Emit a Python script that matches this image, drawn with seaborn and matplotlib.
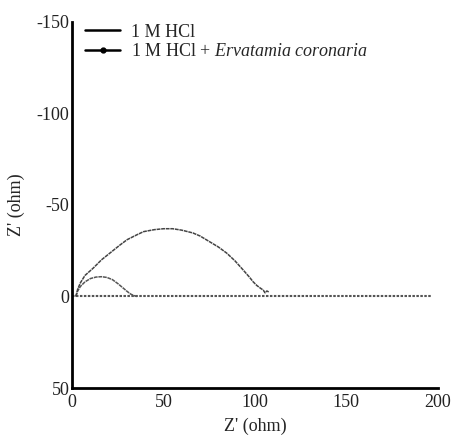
import matplotlib
matplotlib.use("Agg")
import matplotlib.pyplot as plt
from matplotlib.lines import Line2D
import seaborn as sns
import pandas as pd

# Data
x_hcl = [2, 3, 4.5, 7, 10, 13, 16, 19, 22, 25, 28, 30, 32, 34, 35.5]
y_hcl = [0, -3, -5.5, -8, -9.8, -10.6, -10.8, -10.4, -9.2, -7, -4.5, -2.8, -1.3, -0.4, 0]

x_inh = [2, 3, 4.5, 7, 11.5, 16, 21, 26, 30, 35, 39, 45, 50, 55, 60, 66, 70, 75,
         80, 84.5, 89, 93.5, 97, 99, 101, 103, 104.5, 105.5, 106.5, 107.5]
y_inh = [0, -4, -7.5, -11.5, -15.5, -20, -24, -28, -31, -33.5, -35.4, -36.5, -37, -37,
         -36.2, -34.7, -33, -30, -27, -23.7, -19.5, -14.5, -10.5, -8, -6, -4.5, -3.5,
         -2, -3, -2.5]

x_base = [0, 197]
y_base = [0, 0]

labels = ["1 M HCl", "1 M HCl + $\\it{Ervatamia\\ coronaria}$"]
x_ticks = [0, 50, 100, 150, 200]
y_ticks = [-150, -100, -50, 0, 50]

sns.set_style("white")
plt.rcParams['font.family'] = ['Liberation Serif', 'DejaVu Serif']
plt.rcParams['mathtext.fontset'] = 'custom'
plt.rcParams['mathtext.it'] = 'Liberation Serif:italic'
plt.rcParams['mathtext.rm'] = 'Liberation Serif'

fig = plt.figure(figsize=(4.57, 4.36), dpi=100)
ax = fig.add_axes([0.158, 0.110, 0.800, 0.840])

df_base = pd.DataFrame({"x": x_base, "y": y_base})
df_hcl = pd.DataFrame({"x": x_hcl, "y": y_hcl})
df_inh = pd.DataFrame({"x": x_inh, "y": y_inh})

sns.lineplot(data=df_base, x="x", y="y", ax=ax, sort=False, color="#555555",
             linestyle=(0, (1.2, 0.7)), linewidth=1.5)
sns.lineplot(data=df_hcl, x="x", y="y", ax=ax, sort=False, color="#555555",
             linewidth=1.1, linestyle=(0, (2.5, 0.5)))
sns.lineplot(data=df_inh, x="x", y="y", ax=ax, sort=False, color="#444444",
             linewidth=1.1, linestyle=(0, (2.5, 0.5)))

ax.set_xlim(0, 200)
ax.set_ylim(50, -150)
ax.set_xticks(x_ticks)
ax.set_yticks(y_ticks)
ax.set_xticklabels([str(v) for v in x_ticks])
ax.set_yticklabels([str(v) for v in y_ticks])
ax.tick_params(axis="x", length=0, labelsize=13, pad=4, colors="#222222")
ax.tick_params(axis="y", length=0, labelsize=13, pad=2, colors="#222222")

for s in ["top", "right"]:
    ax.spines[s].set_visible(False)
for s in ["left", "bottom"]:
    ax.spines[s].set_linewidth(2.0)
    ax.spines[s].set_color("black")

ax.set_xlabel("Z' (ohm)", fontsize=13, labelpad=5)
ax.set_ylabel("Z' (ohm)", fontsize=13, labelpad=8)

handles = [
    Line2D([], [], color="black", linewidth=1.8),
    Line2D([], [], color="black", linewidth=1.8, marker="o", markersize=3.5),
]
ax.legend(handles, labels, loc="upper left", bbox_to_anchor=(0.036, 0.995),
          frameon=False, fontsize=13, borderpad=0, borderaxespad=0,
          handlelength=1.9, handletextpad=0.6, labelspacing=0.15, numpoints=1)

fig.savefig("out.png", dpi=100)
